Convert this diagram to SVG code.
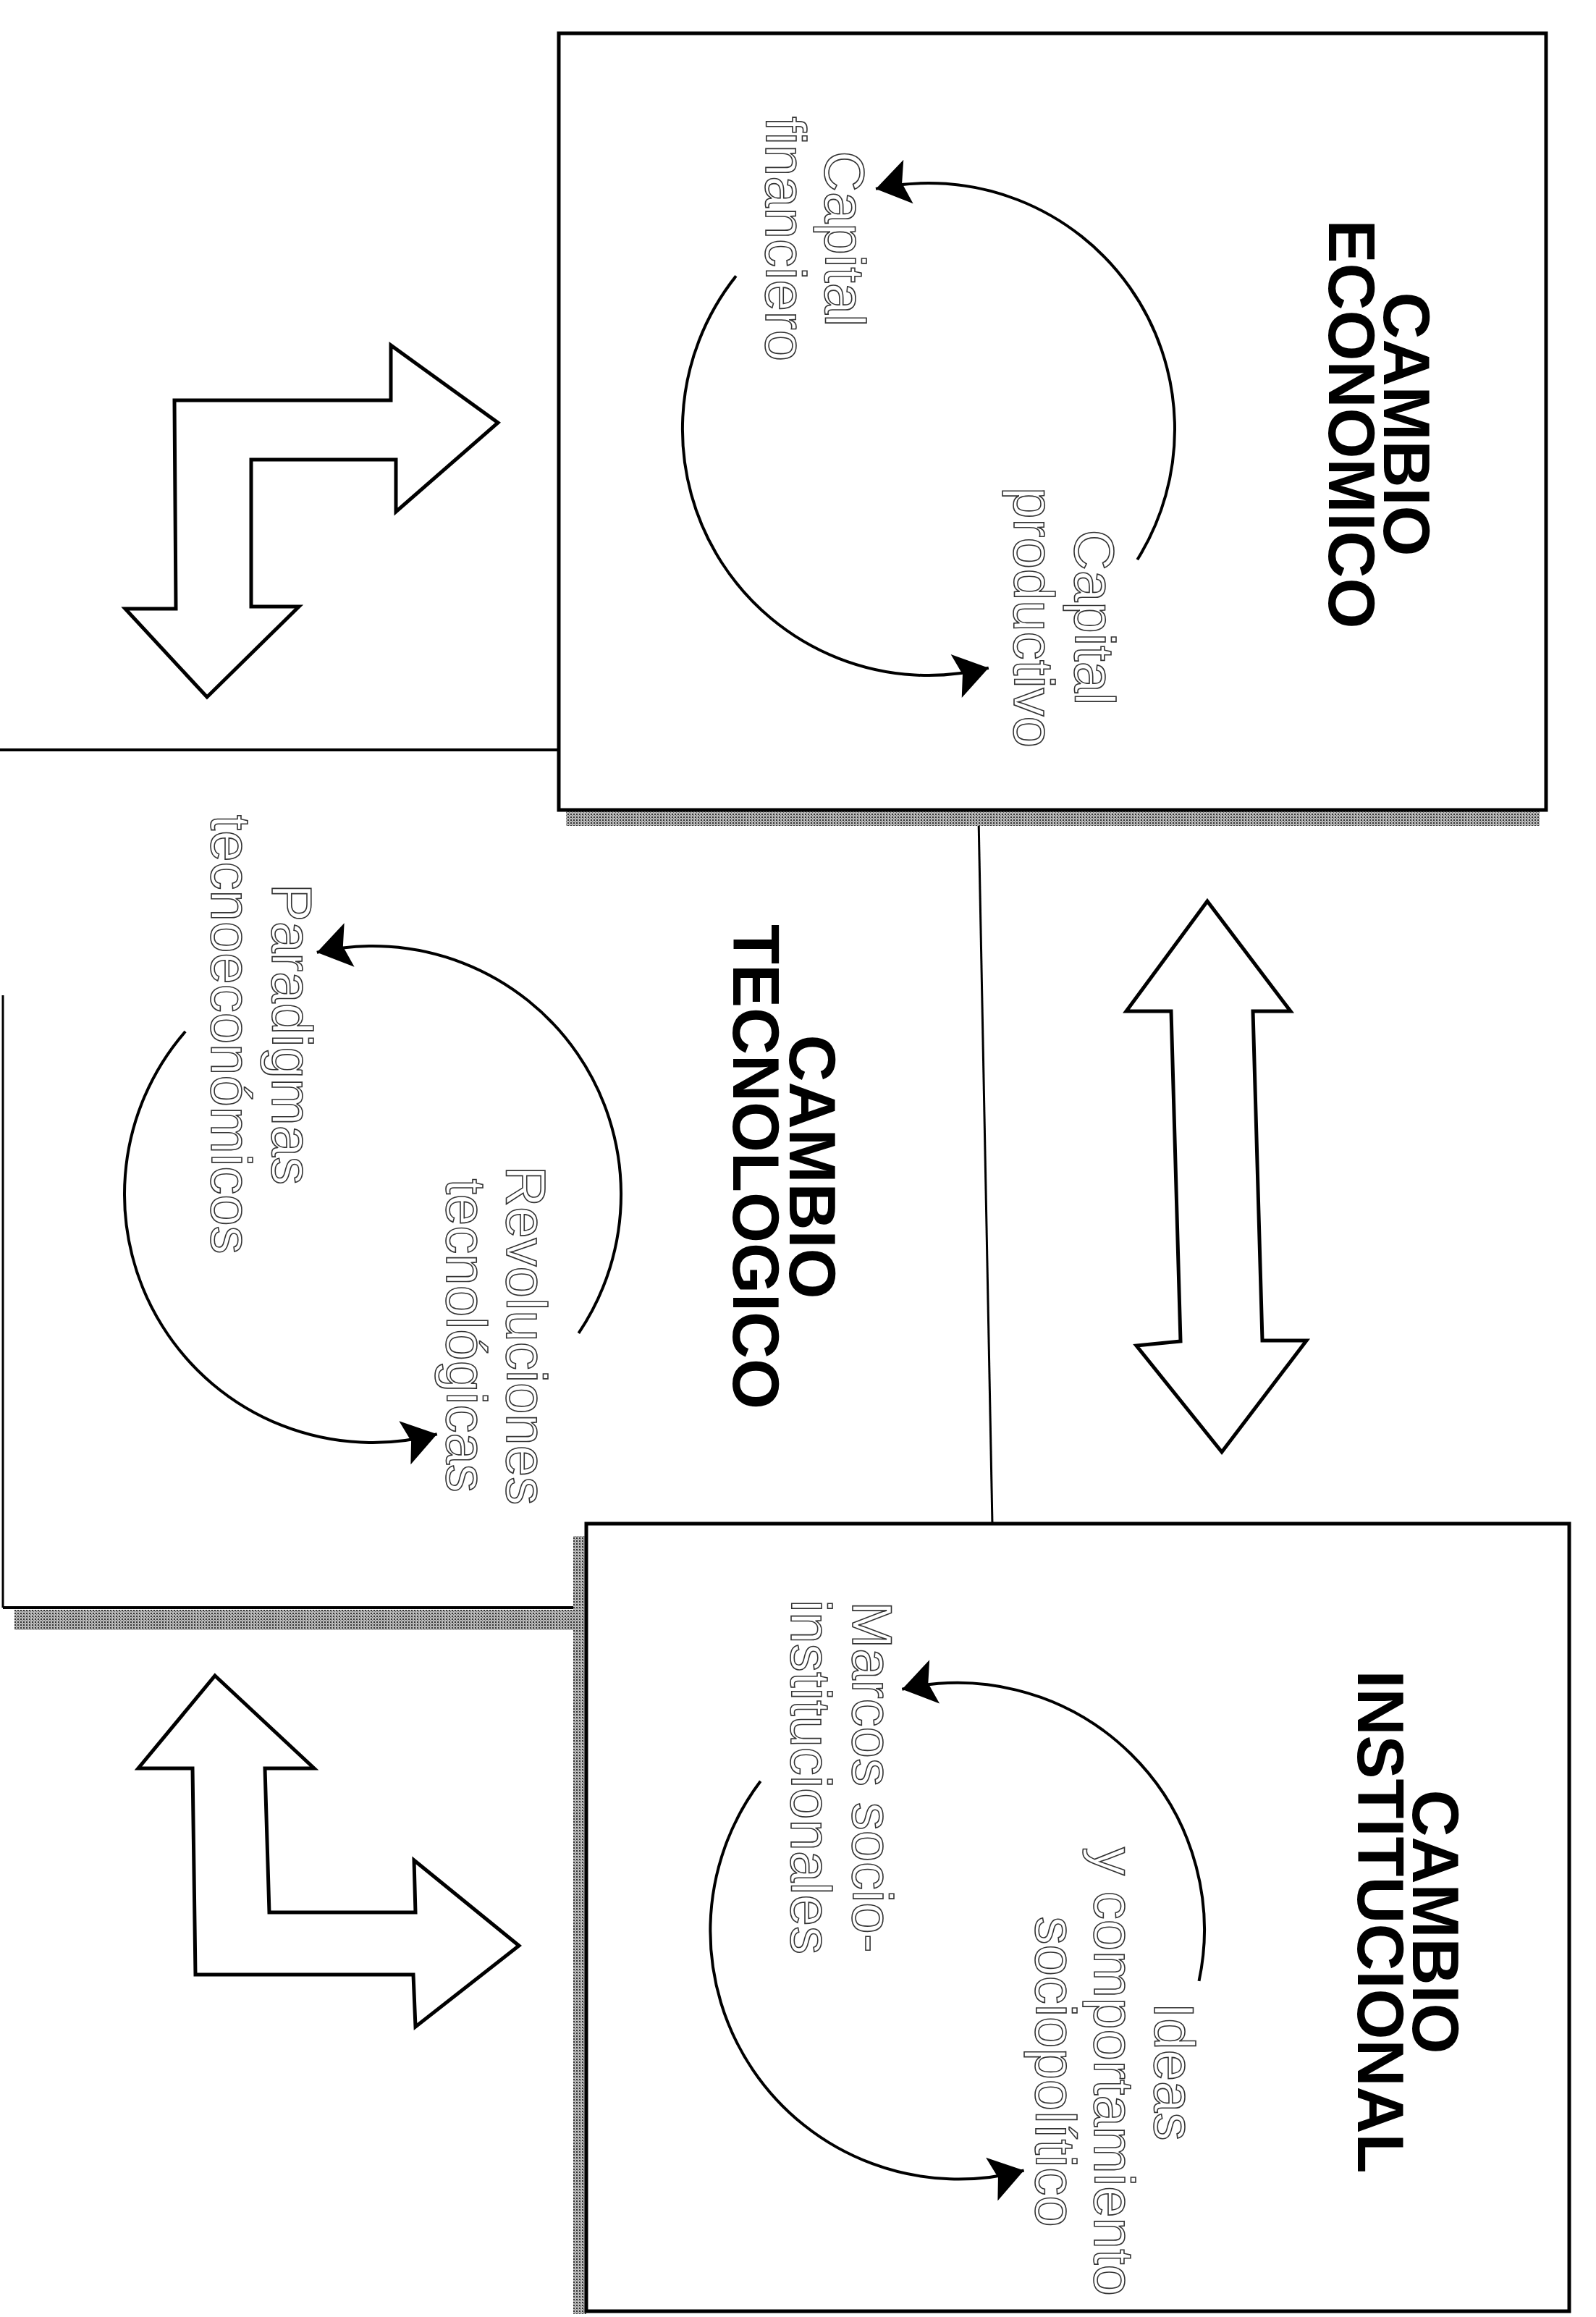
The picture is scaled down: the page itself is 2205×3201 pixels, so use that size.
<svg xmlns="http://www.w3.org/2000/svg" width="2205" height="3201" viewBox="0 0 2205 3201">
<style>
.box{fill:#fff;stroke:#000;stroke-width:5}
.edge{fill:none;stroke:#000;stroke-width:4}
.thin{fill:none;stroke:#000;stroke-width:3}
.cyc{fill:none;stroke:#000;stroke-width:4;marker-end:url(#ah)}
.title{font-family:"Liberation Sans",Arial,sans-serif;font-weight:bold;font-size:90px;fill:#000;text-anchor:middle}
.lab{font-family:"Liberation Sans",Arial,sans-serif;font-size:78px;fill:#fff;stroke:#333;stroke-width:1.6;text-anchor:middle}
.blk{fill:#fff;stroke:#000;stroke-width:5;stroke-linejoin:miter}
.shadow{fill:url(#stip)}
</style>
<defs>
<pattern id="stip" width="4" height="4" patternUnits="userSpaceOnUse">
<rect width="4" height="4" fill="#bbb"/>
<rect width="2" height="2" fill="#333"/>
<rect x="2" y="2" width="1" height="1" fill="#666"/>
</pattern>
<marker id="ah" markerUnits="userSpaceOnUse" markerWidth="60" markerHeight="80" viewBox="-50 -40 60 80" refX="0" refY="0" orient="auto">
<path d="M0,0 L-46,-31 L-37,0 L-46,31 Z" fill="#000"/>
</marker>
</defs>
<rect width="2205" height="3201" fill="#fff"/>

<g id="cambio-tecnologico">
<path class="edge" d="M0,1036 H774"/>
<path class="thin" d="M4,1375 V2221"/>
<path class="edge" d="M4,2221 H812"/>
<rect class="shadow" x="20" y="2224" width="790" height="28"/>
<path class="thin" d="M1352,1130 L1371,2106"/>
<text class="title" transform="translate(1091,1612) rotate(90)"><tspan x="0" y="0">CAMBIO</tspan><tspan x="0" y="78">TECNOLOGICO</tspan></text>
<path class="cyc" d="M799.4,1841.8 A343,343 0 0 0 437.8,1315.8"/>
<path class="cyc" d="M256.1,1425 A343,343 0 0 0 603.8,1981.3"/>
<text class="lab" transform="translate(376,1429) rotate(90)"><tspan x="0" y="0">Paradigmas</tspan><tspan x="0" y="84">tecnoeconómicos</tspan></text>
<text class="lab" transform="translate(700,1845) rotate(90)"><tspan x="0" y="0">Revoluciones</tspan><tspan x="0" y="83">tecnológicas</tspan></text>
</g>

<g id="cambio-economico">
<rect class="shadow" x="782" y="1121" width="1345" height="20"/>
<rect class="box" x="772" y="46" width="1364" height="1073"/>
<text class="title" transform="translate(1912,586) rotate(90)"><tspan x="0" y="0">CAMBIO</tspan><tspan x="0" y="76">ECONOMICO</tspan></text>
<path class="cyc" d="M1571.3,773.2 A340,340 0 0 0 1210,260.9"/>
<path class="cyc" d="M1016.9,381.3 A340,340 0 0 0 1365.8,922.8"/>
<text class="lab" transform="translate(1140,330) rotate(90)"><tspan x="0" y="0">Capital</tspan><tspan x="0" y="82">financiero</tspan></text>
<text class="lab" transform="translate(1485,853) rotate(90)"><tspan x="0" y="0">Capital</tspan><tspan x="0" y="84">productivo</tspan></text>
</g>

<g id="cambio-institucional">
<rect class="shadow" x="792" y="2122" width="18" height="1075"/>
<rect class="box" x="810" y="2105" width="1358" height="1088"/>
<text class="title" transform="translate(1952,2655) rotate(90)"><tspan x="0" y="0">CAMBIO</tspan><tspan x="0" y="76">INSTITUCIONAL</tspan></text>
<path class="cyc" d="M1656.5,2736.9 A341,341 0 0 0 1246.3,2333.7"/>
<path class="cyc" d="M1050.7,2460.8 A343,343 0 0 0 1414.6,2998.5"/>
<text class="lab" transform="translate(1178,2455) rotate(90)"><tspan x="0" y="0">Marcos socio-</tspan><tspan x="0" y="85">institucionales</tspan></text>
<text class="lab" transform="translate(1595,2862) rotate(90)"><tspan x="0" y="0">Ideas</tspan><tspan x="0" y="83">y comportamiento</tspan><tspan x="0" y="164">sociopolítico</tspan></text>
</g>

<g id="connectors">
<polygon class="blk" points="241,553 540,553 540,477 688,584 547,707 547,635 347,635 347,838 413,838 286,963 173,841 243,841"/>
<polygon class="blk" points="297,2315 434,2443 366,2443 372,2642 574,2642 572,2570 717,2688 574,2800 571,2728 270,2728 266,2443 191,2443"/>
<polygon class="blk" points="1668,1245 1783,1397 1731,1397 1744,1852 1805,1852 1688,2006 1570,1859 1631,1853 1618,1397 1556,1397"/>
</g>
</svg>
